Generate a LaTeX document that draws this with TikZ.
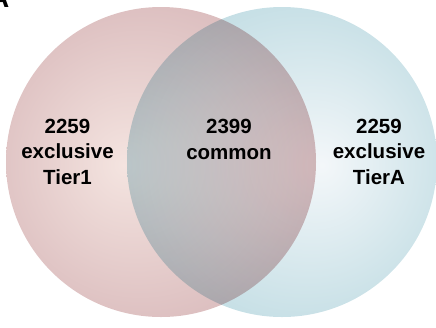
\documentclass[tikz,border=0pt]{standalone}
\usepackage{fontspec}
\setmainfont{Liberation Sans}
\pgfdeclareradialshading{pinkshade}{\pgfpoint{-6bp}{-0.5bp}}{rgb(0bp)=(0.957,0.894,0.878); rgb(31bp)=(0.847,0.722,0.729); rgb(50bp)=(0.847,0.722,0.729)}
\pgfdeclareradialshading{blueshade}{\pgfpoint{6.5bp}{-0.5bp}}{rgb(0bp)=(0.955,0.968,0.978); rgb(31bp)=(0.745,0.859,0.886); rgb(50bp)=(0.745,0.859,0.886)}
\begin{document}
\begin{tikzpicture}[x=1pt,y=-1pt,
  lbl/.style={font=\fontsize{20.5}{24}\selectfont\bfseries, inner sep=0pt, anchor=base}]
\useasboundingbox (0,0) rectangle (436,327);
\clip (0,0) rectangle (436,327);
\begin{scope}[blend group=multiply]
  \path[shading=blueshade] (282,162) circle (155pt);
  \path[shading=pinkshade] (161,162) circle (155pt);
\end{scope}
\node[font=\fontsize{28}{30}\selectfont\bfseries, inner sep=0pt, anchor=base east] (panel) at (9.5,7) {A};
\node[lbl] (l1) at (67.5,133) {2259};
\node[lbl] (l2) at (67.5,158.5) {exclusive};
\node[lbl] (l3) at (67.5,184) {Tier1};
\node[lbl] (c1) at (229,133) {2399};
\node[lbl] (c2) at (229,159) {common};
\node[lbl] (r1) at (379,133) {2259};
\node[lbl] (r2) at (379,158.5) {exclusive};
\node[lbl] (r3) at (379,184) {TierA};
\end{tikzpicture}
\end{document}
